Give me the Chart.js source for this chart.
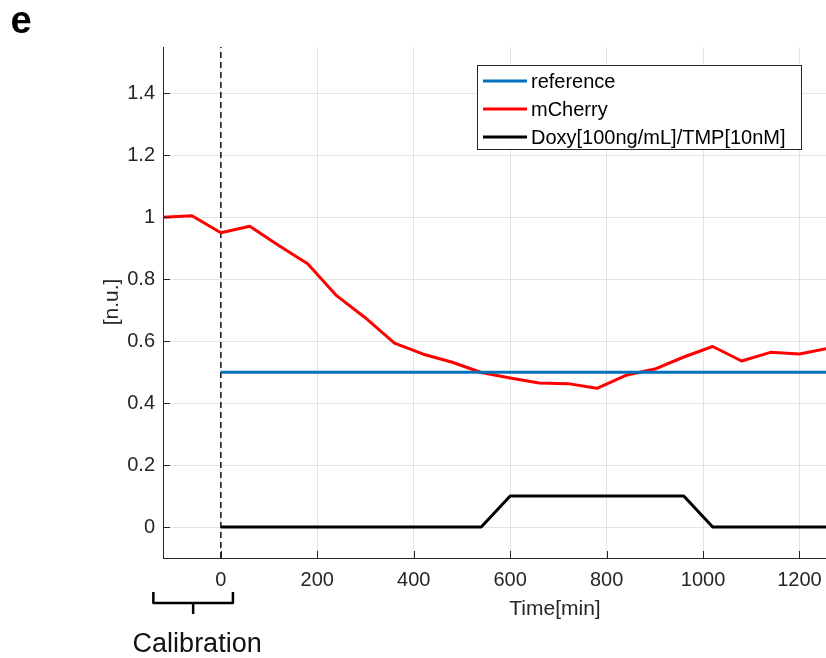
<!DOCTYPE html>
<html>
<head>
<meta charset="utf-8">
<script src="https://cdn.jsdelivr.net/npm/chart.js@4.4.0/dist/chart.umd.min.js"></script>
<style>
  html, body { margin: 0; padding: 0; background: #fff; }
  #wrap { width: 826px; height: 658px; }
</style>
</head>
<body>
<div id="wrap"><canvas id="fig" width="826" height="658"></canvas></div>
<script>
// 読み取った値 (時間は分)
const mcherryTimes = [-120, -60, 0, 60, 120, 180, 240, 300, 360, 420, 480, 540, 600, 660, 720, 780, 840, 900, 960, 1020, 1080, 1140, 1200, 1260];
const mcherryValues = [1.0, 1.005, 0.95, 0.971, 0.909, 0.85, 0.747, 0.675, 0.594, 0.558, 0.532, 0.499, 0.481, 0.465, 0.463, 0.448, 0.49, 0.51, 0.549, 0.583, 0.536, 0.564, 0.559, 0.577];
const refTimes = [0, 1260];
const refValues = [0.5, 0.5];
const doxyTimes = [0, 540, 600, 960, 1020, 1260];
const doxyValues = [0, 0, 0.1, 0.1, 0, 0];
const calibTimes = [0, 0];
const calibValues = [-0.1, 1.55];
const calibRange = [-140, 25];

const xTicks = [0, 200, 400, 600, 800, 1000, 1200];
const yTicks = [0, 0.2, 0.4, 0.6, 0.8, 1, 1.2, 1.4];

const FONT = '"Liberation Sans", Helvetica, Arial, sans-serif';
const TEXT = '#262626';

function pts(xs, ys) {
    return xs.map((x, i) => ({ x: x, y: ys[i] }));
}

// 軸ラベル・凡例・括弧などを描くプラグイン
const extras = {
    id: 'extras',
    afterDatasetsDraw(chart) {
        const c = chart.ctx;
        const a = chart.chartArea;
        const xs = chart.scales.x;
        const ys = chart.scales.y;
        c.save();

        // 内向きの目盛り
        c.strokeStyle = TEXT;
        c.lineWidth = 1;
        c.beginPath();
        xTicks.forEach(v => {
            const px = Math.round(xs.getPixelForValue(v)) + 0.5;
            c.moveTo(px, a.bottom);
            c.lineTo(px, a.bottom - 7);
        });
        yTicks.forEach(v => {
            const py = Math.round(ys.getPixelForValue(v)) + 0.5;
            c.moveTo(a.left, py);
            c.lineTo(a.left + 7, py);
        });
        c.stroke();

        // 凡例
        const bx = 477, by = 65, bw = 324, bh = 84;
        c.fillStyle = '#fff';
        c.fillRect(bx, by, bw, bh);
        c.strokeStyle = '#262626';
        c.lineWidth = 1;
        c.strokeRect(bx + 0.5, by + 0.5, bw, bh);
        c.font = '20px ' + FONT;
        c.textBaseline = 'middle';
        c.textAlign = 'left';
        const items = chart.data.datasets.filter(d => d.label !== 'calib');
        items.forEach((d, i) => {
            const y = by + 16 + i * 28;
            c.strokeStyle = d.borderColor;
            c.lineWidth = 3;
            c.beginPath();
            c.moveTo(bx + 6, y);
            c.lineTo(bx + 50, y);
            c.stroke();
            c.fillStyle = '#000';
            c.fillText(d.label, bx + 54, y + 1);
        });

        // 軸タイトル
        c.fillStyle = TEXT;
        c.font = '21px ' + FONT;
        c.textAlign = 'center';
        c.fillText('Time[min]', 555, 609);
        c.save();
        c.translate(112, 302);
        c.rotate(-Math.PI / 2);
        c.fillText('[n.u.]', 0, 0);
        c.restore();

        // キャリブレーションの括弧
        const x0 = xs.getPixelForValue(calibRange[0]);
        const x1 = xs.getPixelForValue(calibRange[1]);
        const xm = (x0 + x1) / 2;
        c.strokeStyle = '#000';
        c.lineWidth = 2.5;
        c.lineJoin = 'round';
        c.beginPath();
        c.moveTo(x0, 592);
        c.lineTo(x0, 603);
        c.lineTo(x1, 603);
        c.lineTo(x1, 592);
        c.moveTo(xm, 603);
        c.lineTo(xm, 614);
        c.stroke();
        c.fillStyle = '#111';
        c.font = '27px ' + FONT;
        c.fillText('Calibration', xm + 4, 645);

        // パネル記号
        c.fillStyle = '#000';
        c.font = 'bold 38px ' + FONT;
        c.fillText('e', 21, 23);

        c.restore();
    }
};

const ctx = document.getElementById('fig').getContext('2d');
const fig = new Chart(ctx, {
    type: 'line',
    data: {
        datasets: [
            {
                label: 'reference',
                data: pts(refTimes, refValues),
                borderColor: '#0072BD',
                borderWidth: 3
            },
            {
                label: 'mCherry',
                data: pts(mcherryTimes, mcherryValues),
                borderColor: '#FF0000',
                borderWidth: 3
            },
            {
                label: 'Doxy[100ng/mL]/TMP[10nM]',
                data: pts(doxyTimes, doxyValues),
                borderColor: '#000000',
                borderWidth: 3
            },
            {
                label: 'calib',
                data: pts(calibTimes, calibValues),
                borderColor: '#000000',
                borderWidth: 1.4,
                borderDash: [6, 4]
            }
        ]
    },
    options: {
        responsive: false,
        animation: false,
        devicePixelRatio: 1,
        layout: { padding: { left: 0, top: 47, right: 0, bottom: 0 } },
        elements: {
            point: { radius: 0 },
            line: { tension: 0, borderJoinStyle: 'round', borderCapStyle: 'butt' }
        },
        plugins: {
            legend: { display: false },
            tooltip: { enabled: false }
        },
        scales: {
            x: {
                type: 'linear',
                min: -120,
                max: 1255,
                afterBuildTicks: s => { s.ticks = xTicks.map(v => ({ value: v })); },
                afterFit: s => { s.height = 100; s.paddingRight = 0; },
                grid: { color: '#e3e3e3', drawTicks: false },
                border: { display: true, color: TEXT, width: 1 },
                ticks: {
                    color: TEXT,
                    font: { family: FONT, size: 20 },
                    padding: 10,
                    maxRotation: 0,
                    callback: v => String(v)
                }
            },
            y: {
                type: 'linear',
                min: -0.1,
                max: 1.55,
                afterBuildTicks: s => { s.ticks = yTicks.map(v => ({ value: v })); },
                afterFit: s => { s.width = 163; },
                grid: { color: '#e3e3e3', drawTicks: false },
                border: { display: true, color: TEXT, width: 1 },
                ticks: {
                    color: TEXT,
                    font: { family: FONT, size: 20 },
                    padding: 8,
                    callback: v => String(Math.round(v * 10) / 10)
                }
            }
        }
    },
    plugins: [extras]
});
</script>
</body>
</html>
